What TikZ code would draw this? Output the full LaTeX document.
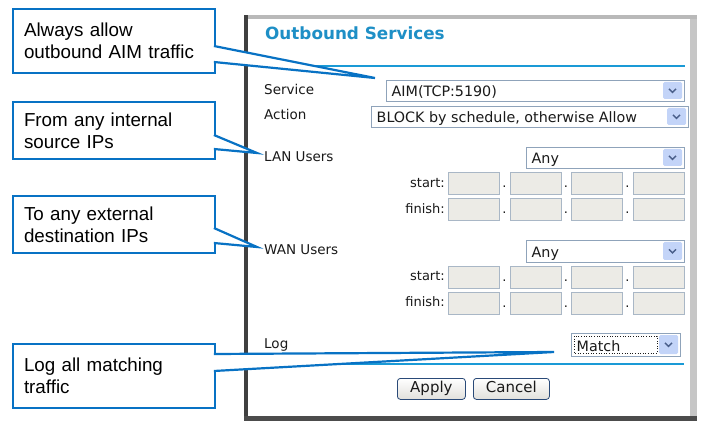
\documentclass[tikz,border=0pt]{standalone}
\usepackage{fontspec}
\newfontfamily\notefont{Liberation Sans}
\newfontfamily\uifont{DejaVu Sans}
\definecolor{noteblue}{HTML}{0872C4}
\definecolor{ruleblue}{HTML}{1A9AD6}
\definecolor{titleblue}{HTML}{1E8FC6}
\definecolor{fieldgray}{HTML}{8FA3BA}
\definecolor{ipfill}{HTML}{ECEBE6}
\definecolor{ipline}{HTML}{A9B7C6}
\definecolor{btnblue}{HTML}{C3D4F8}
\definecolor{chevblue}{HTML}{4A5F8A}
\definecolor{btnline}{HTML}{2A4A78}
\definecolor{uitext}{HTML}{1A1A1A}
\tikzset{
	pics/dropdown/.style n args={3}{
		code = {
			\node[field, minimum width=#1, minimum height=#2] (-box) at (0,0) {};
			\node[fieldtext] (-txt) at ([xshift=5.5pt, yshift=4.5pt]-box.south west) {#3};
			\node[dropbtn, minimum height=#2-4] (-btn) at ([xshift=-2pt]-box.east) {};
			\draw[chevron] ([xshift=-3.5pt, yshift=1.6pt]-btn.center) -- ([yshift=-1.8pt]-btn.center) -- ([xshift=3.5pt, yshift=1.6pt]-btn.center);
		}
	},
	pics/iprow/.style={
		code = {
			\node[ipbox] (-a) at (0,0) {};
			\node[ipbox] (-b) at (62,0) {};
			\node[ipbox] (-c) at (123,0) {};
			\node[ipbox] (-d) at (185,0) {};
			\node[ipdot] (-ab) at (56.5,16) {.};
			\node[ipdot] (-bc) at (118,16) {.};
			\node[ipdot] (-cd) at (179.5,16) {.};
		}
	}
}

\begin{document}
\begin{tikzpicture}[x=1pt, y=-1pt,
	note/.style={draw=noteblue, line width=2.2pt, fill=white, anchor=north west, inner xsep=11pt, inner ysep=0pt, outer sep=0pt, text width=180pt, align=left, minimum width=202, font=\notefont\fontsize{18.8}{22}\selectfont},
	pointer/.style={draw=noteblue, line width=2.2pt, line join=miter},
	field/.style={draw=fieldgray, fill=white, anchor=north west, inner sep=0pt, outer sep=0pt, line width=0.8pt},
	fieldtext/.style={anchor=base west, inner sep=0pt, text=uitext, font=\uifont\fontsize{14.3}{16}\selectfont},
	dropbtn/.style={anchor=east, fill=btnblue, rounded corners=1.5pt, minimum width=19, inner sep=0pt, outer sep=0pt},
	chevron/.style={draw=chevblue, line width=1.5pt},
	ipbox/.style={draw=ipline, fill=ipfill, anchor=north west, minimum width=51, minimum height=22, inner sep=0pt, outer sep=0pt, line width=0.8pt},
	ipdot/.style={anchor=base, inner sep=0pt, text=uitext, font=\uifont\fontsize{13}{15}\selectfont},
	lbl/.style={anchor=base west, inner sep=0pt, text=uitext, font=\uifont\fontsize{13.5}{15}\selectfont},
	iplbl/.style={anchor=base east, inner sep=0pt, text=uitext, font=\uifont\fontsize{13}{15}\selectfont},
	btn/.style={draw=btnline, line width=0.8pt, rounded corners=3pt, top color=white, bottom color=ipfill!90!gray, anchor=north west, minimum height=21, inner sep=0pt, text height=11pt, text depth=3pt, text=uitext, font=\uifont\fontsize{15}{17}\selectfont},
	rule/.style={draw=ruleblue, line width=2pt},
	focus/.style={draw=uitext, dotted, line width=0.6pt}]

	\useasboundingbox (0,0) rectangle (720,430);

	% panel frame
	\fill[gray!70] (244,15) rectangle (697,421);
	\fill[white] (248,19) rectangle (690,416);
	\fill[black!75] (244,15) rectangle (248,421);
	\fill[gray!55] (248,15) rectangle (697,19);
	\fill[gray!45] (690,19) rectangle (697,421);
	\fill[black!70] (244,416) rectangle (697,421);

	\node[anchor=base west, inner sep=0pt, text=titleblue, font=\uifont\bfseries\fontsize{16.8}{18}\selectfont] (title) at (265,40) {Outbound Services};
	\draw[rule] (265,66) -- (685,66);

	\node[lbl] (svclbl) at (264,95) {Service};
	\node[lbl] (actlbl) at (264,120) {Action};
	\node[lbl] (lanlbl) at (264,161.5) {LAN Users};
	\node[lbl] (wanlbl) at (264,255) {WAN Users};
	\node[lbl] (loglbl) at (264,348) {Log};

	\pic (svc) at (386,80) {dropdown={298}{21}{AIM(TCP:5190)}};
	\pic (act) at (371,106) {dropdown={317}{21}{BLOCK by schedule, otherwise Allow}};
	\pic (lanany) at (526,147) {dropdown={158}{21}{Any}};
	\pic (wanany) at (526,240) {dropdown={158}{22}{Any}};
	\pic (logsel) at (571,333) {dropdown={109}{23}{Match}};
	\draw[focus] ([xshift=3pt, yshift=-3pt]logsel-box.north west) rectangle ([xshift=-23pt, yshift=3pt]logsel-box.south east);

	\node[iplbl] (lanstartlbl) at (445,188) {start:};
	\node[iplbl] (lanfinishlbl) at (445,214) {finish:};
	\node[iplbl] (wanstartlbl) at (445,281) {start:};
	\node[iplbl] (wanfinishlbl) at (445,307) {finish:};

	\pic (lanstart) at (448,172) {iprow};
	\pic (lanfinish) at (448,198) {iprow};
	\pic (wanstart) at (448,266) {iprow};
	\pic (wanfinish) at (448,292) {iprow};

	\draw[rule] (265,364) -- (684,364);

	\node[btn, minimum width=68] (apply) at (397,378) {Apply};
	\node[btn, minimum width=76] (cancel) at (473,378) {Cancel};

	% --- callouts ---
	\node[note, minimum height=64] (aimnote) at (13,9) {Always allow\\outbound AIM traffic};
	\coordinate (aimtip) at (375,78);
	\fill[white] ([xshift=-1.1pt, yshift=-37pt]aimnote.north east) -- (aimtip) -- ([xshift=-1.1pt, yshift=-53pt]aimnote.north east) -- cycle;
	\draw[pointer] ([xshift=-1.1pt, yshift=-37pt]aimnote.north east) -- (aimtip) -- ([xshift=-1.1pt, yshift=-53pt]aimnote.north east);

	\node[note, minimum height=57] (srcnote) at (13,102) {From any internal\\source IPs};
	\coordinate (srctip) at (257,153);
	\fill[white] ([xshift=-1.1pt, yshift=-33pt]srcnote.north east) -- (srctip) -- ([xshift=-1.1pt, yshift=-47pt]srcnote.north east) -- cycle;
	\draw[pointer] ([xshift=-1.1pt, yshift=-33pt]srcnote.north east) -- (srctip) -- ([xshift=-1.1pt, yshift=-47pt]srcnote.north east);

	\node[note, minimum height=57] (dstnote) at (13,196) {To any external\\destination IPs};
	\coordinate (dsttip) at (257,247);
	\fill[white] ([xshift=-1.1pt, yshift=-32pt]dstnote.north east) -- (dsttip) -- ([xshift=-1.1pt, yshift=-47pt]dstnote.north east) -- cycle;
	\draw[pointer] ([xshift=-1.1pt, yshift=-32pt]dstnote.north east) -- (dsttip) -- ([xshift=-1.1pt, yshift=-47pt]dstnote.north east);

	\node[note, minimum height=64] (lognote) at (13,344) {Log all matching\\traffic};
	\coordinate (logtip) at (554,352);
	\fill[white] ([xshift=-1.1pt, yshift=-10pt]lognote.north east) -- (logtip) -- ([xshift=-1.1pt, yshift=-27pt]lognote.north east) -- cycle;
	\draw[pointer] ([xshift=-1.1pt, yshift=-10pt]lognote.north east) -- (logtip) -- ([xshift=-1.1pt, yshift=-27pt]lognote.north east);

\end{tikzpicture}
\end{document}
